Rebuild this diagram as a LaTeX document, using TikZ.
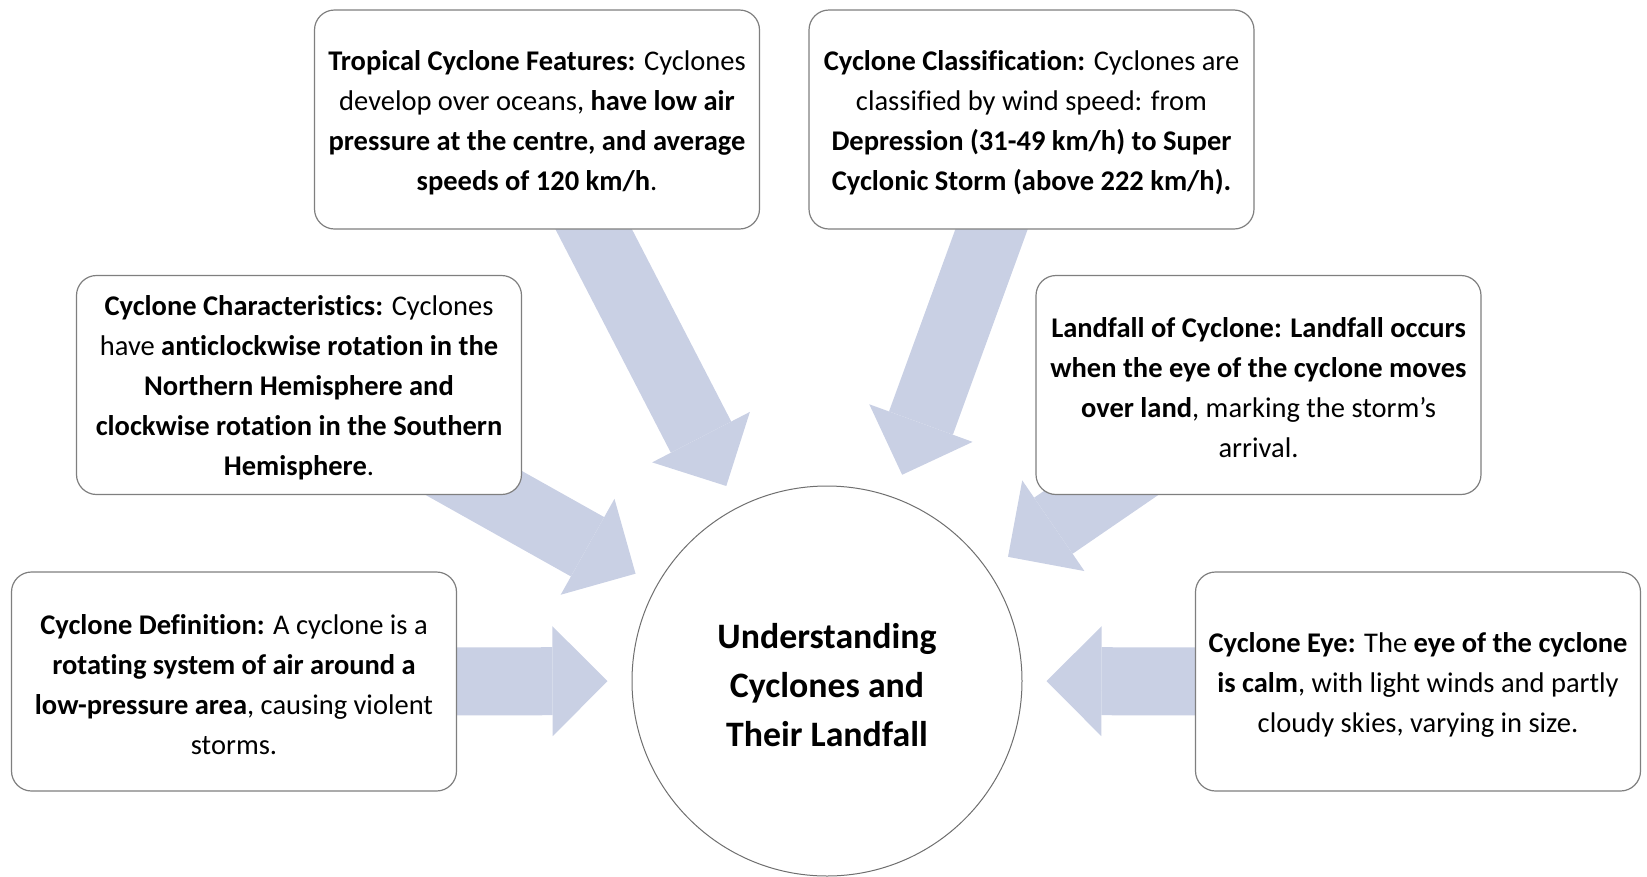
\documentclass[tikz,border=0pt]{standalone}
\usepackage{fontspec}
\setmainfont{Carlito}[Ligatures=NoCommon]
\usepackage{xcolor}
\definecolor{ARROWcolor}{HTML}{C9D0E4}
\definecolor{BOXcolor}{HTML}{7F7F7F}
\definecolor{HUBcolor}{HTML}{6F6F6F}
\usetikzlibrary{%
        calc,
        math,
        backgrounds, % arrows behind the boxes
        arrows.meta,
    }
% taller first line, pushes the box text down a little
\newcommand{\lift}{\rule{0pt}{26pt}}

\begin{document}
\begin{tikzpicture}[x=1pt, y=-1pt, line width=1.2pt]
    \tikzmath{%
        % box size
        \boxwidth=445;
        \boxheight=219;
        % hub
        \rhub=195;
        % gap between arrow tip and hub
        \gap=24;
    };

    \tikzset{%
        infobox/.style={draw=BOXcolor, fill=white, rounded corners=20pt,
                minimum width=\boxwidth pt, minimum height=\boxheight pt,
                inner sep=0pt, align=center, font=\fontsize{28.5}{40}\selectfont},
        hubcircle/.style={circle, draw=HUBcolor, fill=white, line width=1pt,
                minimum size=2*\rhub pt, inner sep=0pt,
                font=\fontsize{35.8}{49}\selectfont\bfseries},
        flowarrow/.style={draw=ARROWcolor, line width=68pt,
                -{Triangle[width=110pt, length=55pt, line width=0pt]},
                shorten >=\gap pt},
    }

    \useasboundingbox (0, 0) rectangle (1647, 876);

    % hub
    \node (hub) [hubcircle] at (827, 681) {\raisebox{-12.5pt}[0pt][0pt]{%
            \begin{tabular}{@{}c@{}}Understanding\\Cyclones and\\Their Landfall\end{tabular}}};

    % top boxes
    \node (feat) [infobox] at (537, 119.5) {%
        \lift\textbf{Tropical Cyclone Features:} Cyclones\\
        develop over oceans, \textbf{have low air}\\
        \textbf{pressure at the centre, and average}\\
        \textbf{speeds of 120 km/h}.};
    \node (class) [infobox] at (1031.5, 119.5) {%
        \lift\textbf{Cyclone Classification:} Cyclones are\\
        classified by wind speed: from\\
        \textbf{Depression (31-49 km/h) to Super}\\
        \textbf{Cyclonic Storm (above 222 km/h).}};

    % middle boxes
    \node (charac) [infobox] at (299, 385) {%
        \lift\textbf{Cyclone Characteristics:} Cyclones\\
        have \textbf{anticlockwise rotation in the}\\
        \textbf{Northern Hemisphere and}\\
        \textbf{clockwise rotation in the Southern}\\
        \textbf{Hemisphere}.};
    \node (land) [infobox] at (1258.5, 385) {%
        \lift\textbf{Landfall of Cyclone: Landfall occurs}\\
        \textbf{when the eye of the cyclone moves}\\
        \textbf{over land}, marking the storm’s\\
        arrival.};

    % bottom boxes
    \node (defn) [infobox] at (234, 681.5) {%
        \lift\textbf{Cyclone Definition:} A cyclone is a\\
        \textbf{rotating system of air around a}\\
        \textbf{low-pressure area}, causing violent\\
        storms.};
    \node (eye) [infobox] at (1418, 681.5) {%
        \lift\textbf{Cyclone Eye:} The \textbf{eye of the cyclone}\\
        \textbf{is calm}, with light winds and partly\\
        cloudy skies, varying in size.};

    % arrows into the hub
    \begin{scope}[on background layer]
        \foreach \b in {feat, class, charac, land, defn, eye} {%
                \draw [flowarrow] (\b.center) -- (hub);
            }
    \end{scope}
\end{tikzpicture}
\end{document}
